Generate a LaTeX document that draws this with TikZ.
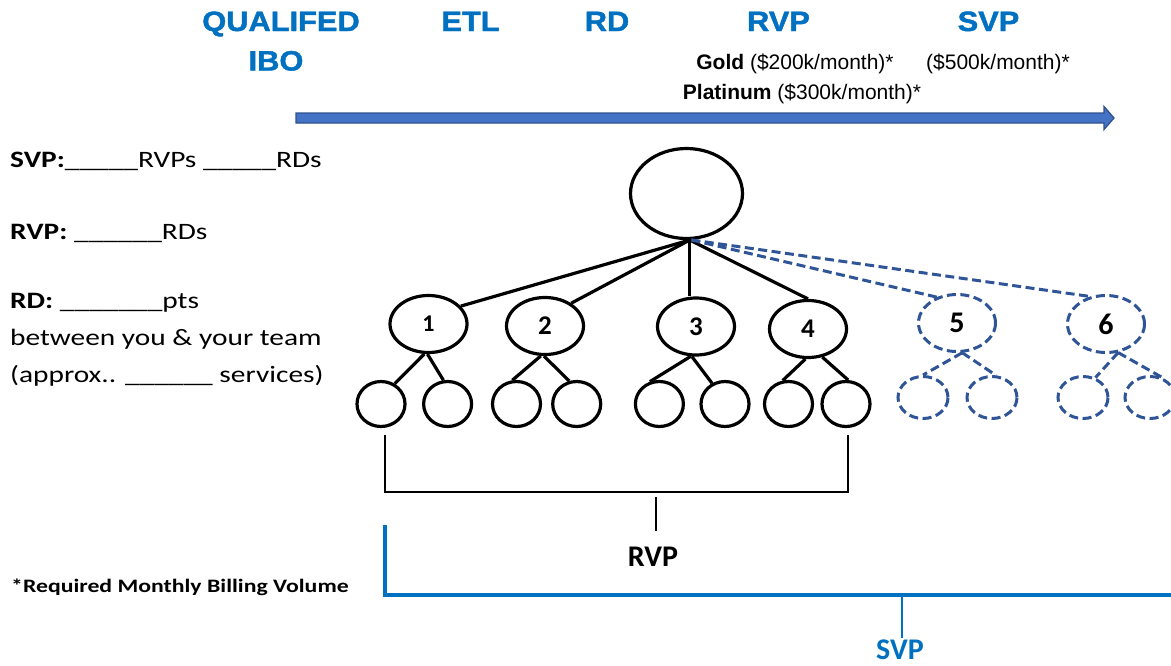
\documentclass[tikz,border=0pt]{standalone}
\usepackage{fontspec}
\setmainfont{Carlito}
\usetikzlibrary{shapes.geometric}
\newfontfamily\hdrfont{Liberation Sans}[BoldFeatures={FakeStretch=1.1,FakeBold=1.5}]
\newfontfamily\arialf{Liberation Sans}
\newfontfamily\calst{Carlito}[FakeStretch=1.25]
\definecolor{hblue}{HTML}{0070C0}
\definecolor{dblue}{HTML}{2F5597}
\definecolor{afill}{HTML}{4472C4}
\definecolor{aedge}{HTML}{2F528F}
\tikzset{
  hdr/.style={font=\hdrfont\bfseries\fontsize{28}{30}\selectfont, text=hblue, inner sep=0, anchor=base},
  amt/.style={font=\arialf\fontsize{21}{24}\selectfont, inner sep=0, anchor=base},
  lt/.style={font=\calst\fontsize{23.5}{28}\selectfont, inner sep=0, anchor=base west},
  bignode/.style={ellipse, draw=black, line width=3.2pt, inner sep=0, minimum width=112pt, minimum height=90pt},
  midnode/.style={ellipse, draw=black, line width=3.2pt, inner sep=0, minimum width=77pt, minimum height=57pt,
     font=\bfseries\fontsize{27}{30}\selectfont},
  leafnode/.style={ellipse, draw=black, line width=3.2pt, inner sep=0, minimum width=48pt, minimum height=45pt},
  dmidnode/.style={ellipse, draw=dblue, line width=3pt, dash pattern=on 9pt off 4.5pt, inner sep=0,
     minimum width=77pt, minimum height=57pt, font=\bfseries\fontsize{30}{32}\selectfont},
  dleafnode/.style={ellipse, draw=dblue, line width=3pt, dash pattern=on 9pt off 4.5pt, inner sep=0,
     minimum width=50pt, minimum height=42pt},
  conn/.style={draw=black, line width=3.2pt},
  dconn/.style={draw=dblue, line width=3pt, dash pattern=on 9pt off 4.5pt},
  bracket/.style={draw=black, line width=2.8pt},
  sbracket/.style={draw=hblue, line width=3.2pt},
}
\begin{document}
\begin{tikzpicture}[x=1pt,y=-1pt]
\useasboundingbox (0,0) rectangle (1171,665);

% headers
\node[hdr] (hq) at (281,31) {QUALIFED};
\node[hdr] (hibo) at (276,70.5) {IBO};
\node[hdr] (hetl) at (470.5,31) {ETL};
\node[hdr] (hrd) at (607,31) {RD};
\node[hdr] (hrvp) at (778.5,31) {RVP};
\node[hdr] (hsvp) at (988.5,31) {SVP};

\node[amt] (gold) at (795,69.5) {\textbf{Gold} (\$200k/month)*};
\node[amt] (svpamt) at (998,69.5) {(\$500k/month)*};
\node[amt] (plat) at (802,99) {\textbf{Platinum} (\$300k/month)*};

% timeline arrow
\filldraw[fill=afill, draw=aedge, line width=1.3pt, line join=miter]
  (296,113) -- (1104,113) -- (1104,106.5) -- (1114,118) -- (1104,129.5) -- (1104,123) -- (296,123) -- cycle;

% left text
\node[lt] (tsvp) at (10,167) {\textbf{SVP:}\_\_\_\_\_RVPs \_\_\_\_\_RDs};
\node[lt] (trvp) at (10,239) {\textbf{RVP:} \_\_\_\_\_\_RDs};
\node[lt] (trd) at (10,308) {\textbf{RD:} \_\_\_\_\_\_\_pts};
\node[lt] (tbtw) at (10,345) {between you \& your team};
\node[lt] (tapx) at (10,382) {(approx.. \_\_\_\_\_\_ services)};
\node[lt, font=\calst\bfseries\fontsize{19}{22}\selectfont] (treq) at (11,592) {*Required Monthly Billing Volume};

% tree
\node[bignode] (top) at (686.5,193.5) {};
\node[midnode, font=\bfseries\fontsize{24}{26}\selectfont] (n1) at (428.5,324) {1};
\node[midnode] (n2) at (545,326) {2};
\node[midnode] (n3) at (696,326.5) {3};
\node[midnode] (n4) at (808,329) {\raisebox{-3pt}{4}};
\node[dmidnode] (n5) at (957,323) {5};
\node[dmidnode] (n6) at (1106,324) {\raisebox{-3pt}{6}};

\node[leafnode] (a1) at (381,404) {};
\node[leafnode] (b1) at (447.6,404) {};
\node[leafnode] (a2) at (516.5,404) {};
\node[leafnode] (b2) at (576.7,404) {};
\node[leafnode] (a3) at (659.4,404) {};
\node[leafnode] (b3) at (725,404) {};
\node[leafnode] (a4) at (788.5,404) {};
\node[leafnode] (b4) at (846,404) {};
\node[dleafnode] (a5) at (923,397.5) {};
\node[dleafnode] (b5) at (992,397.5) {};
\node[dleafnode] (a6) at (1083,397.5) {};
\node[dleafnode] (b6) at (1150,397.5) {};

\draw[conn] (top.-86) -- (n1.29);
\draw[conn] (top.-86) -- (n2.41);
\draw[conn] (top.-86) -- (n3.north -| top.-86);
\draw[conn] (top.-86) -- (n4.north);
\draw[dconn] (top.-84) -- (n5.128);
\draw[dconn] (top.-84) -- (n6.120);

\draw[conn] (n1.-98) -- (a1.56);
\draw[conn] (n1.-92) -- (b1.100);
\draw[conn] (n2.-98) -- (a2.100);
\draw[conn] (n2.-92) -- (b2.108);
\draw[conn] (n3.-100) -- (a3.113);
\draw[conn] (n3.-98) -- (b3.122);
\draw[conn] (n4.-95) -- (a4.104);
\draw[conn] (n4.-63) -- (b4.85);
\draw[dconn] (n5.-80) -- (a5.90);
\draw[dconn] (n5.-80) -- (b5.80);
\draw[dconn] (n6.-67) -- (a6.58);
\draw[dconn] (n6.-67) -- (b6.57);

% RVP bracket
\coordinate (bl) at (385,435);
\coordinate (br) at (848,435);
\coordinate (bm) at (656,497);
\draw[bracket, line join=miter] (bl) -- (385,492) -- (848,492) -- (br);
\node[inner sep=0, anchor=base, font=\bfseries\fontsize{30}{32}\selectfont] (lrvp) at (653,566) {RVP};
\draw[draw=black, line width=2pt] (bm) -- (656,531);

% SVP bracket
\coordinate (sl) at (385,525);
\coordinate (sr) at (1171,595);
\coordinate (sm) at (902,597);
\draw[sbracket, line join=miter] (sl) -- (385,595) -- (sr);
\node[inner sep=0, anchor=base, text=hblue, font=\bfseries\fontsize{30}{32}\selectfont] (lsvp) at (900,659) {SVP};
\draw[draw=hblue, line width=2pt] (sm) -- (902,638);
\end{tikzpicture}
\end{document}
